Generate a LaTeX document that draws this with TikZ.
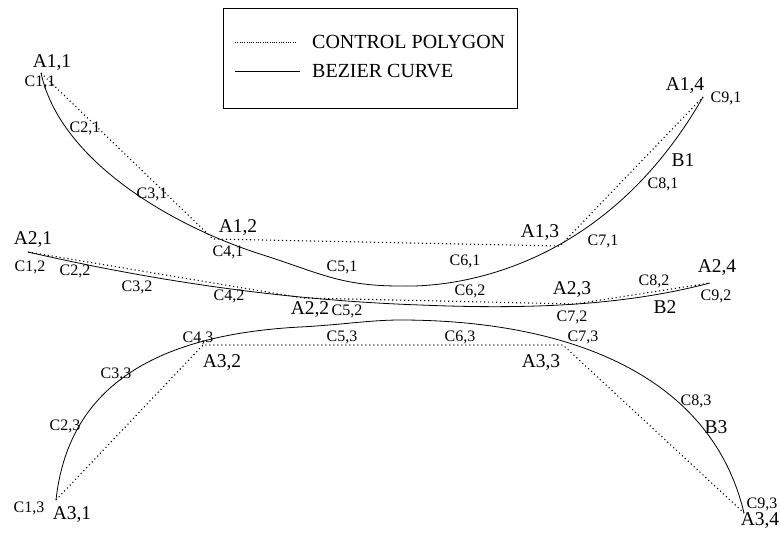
\documentclass[tikz,border=0pt]{standalone}
\usepackage{fontspec}
\setmainfont{Liberation Serif}
\begin{document}
\begin{tikzpicture}[x=1pt,y=-1pt,
  poly/.style={line width=1.1pt, dash pattern=on 1.1pt off 2.9pt},
  curve/.style={line width=0.8pt},
  leg/.style={font=\fontsize{20}{22}\selectfont, inner sep=0pt, anchor=west},
  alab/.style={font=\fontsize{19.5}{21}\selectfont, inner sep=0pt},
  clab/.style={font=\fontsize{16}{18}\selectfont, inner sep=0pt}]
\useasboundingbox (0,0) rectangle (780,536);
\node[draw, line width=0.8pt, minimum width=294pt, minimum height=100pt, inner sep=0pt] (legend) at (370,58) {};
\node[leg] (lpoly) at (312,42) {CONTROL POLYGON};
\node[leg] (lcurve) at (312,71) {BEZIER CURVE};
\draw[poly, line width=0.7pt, dash pattern=on 0.7pt off 1.6pt] ([xshift=-77pt]lpoly.west) -- ([xshift=-15pt]lpoly.west);
\draw[curve] ([xshift=-77pt]lcurve.west) -- ([xshift=-12pt]lcurve.west);
\coordinate (p11) at (41,73);
\coordinate (p12) at (213,239);
\coordinate (p13) at (560,246);
\coordinate (p14) at (703,97);
\coordinate (p21) at (28,252);
\coordinate (p22) at (303,298);
\coordinate (p23) at (575,304);
\coordinate (p24) at (710,283);
\coordinate (p31) at (56,500);
\coordinate (p32) at (203,345);
\coordinate (p33) at (563,345);
\coordinate (p34) at (744,513);
\draw[poly] (p11) -- (p12) -- (p13) -- (p14);
\draw[poly] (p21) -- (p22) -- (p23) -- (p24);
\draw[poly] (p31) -- (p32) -- (p33) -- (p34);
\draw[curve] (p11) .. controls (60,160) and (170,225) .. (260,254)
  .. controls (320,273) and (340,286) .. (400,286)
  .. controls (470,288) and (610,260) .. (p14);
\draw[curve] (p21) .. controls (150,280) and (280,300) .. (420,305)
  .. controls (540,310) and (630,304) .. (p24);
\draw[curve] (p31) .. controls (68,390) and (150,335) .. (300,327)
  .. controls (340,325) and (370,320) .. (400,320)
  .. controls (560,320) and (710,370) .. (p34);
\foreach \i/\j/\x/\y in {1/1/52/63, 1/2/238/228, 1/3/540/233, 1/4/685/86,
  2/1/33/240, 2/2/310/310, 2/3/572/290, 2/4/717/268,
  3/1/72/515, 3/2/222/363, 3/3/541/363, 3/4/760/521}
  \node[alab] (a\i\j) at (\x,\y) {A\i,\j};
\foreach \i/\x/\y in {1/683/160, 2/665/307, 3/716/427}
  \node[alab] (b\i) at (\x,\y) {B\i};
\foreach \i/\j/\x/\y in {1/1/40/82, 2/1/85/128, 3/1/152/194, 4/1/228/252, 5/1/342/267,
  6/1/465/261, 7/1/603/241, 8/1/663/184, 9/1/726/98,
  1/2/30/267, 2/2/75/271, 3/2/137/287, 4/2/229/296, 5/2/347/311,
  6/2/470/291, 7/2/572/317, 8/2/654/281, 9/2/716/296,
  1/3/29/508, 2/3/65/426, 3/3/116/374, 4/3/198/338, 5/3/342/337,
  6/3/460/337, 7/3/583/337, 8/3/696/401, 9/3/762/504}
  \node[clab] (c\i\j) at (\x,\y) {C\i,\j};
\end{tikzpicture}
\end{document}
